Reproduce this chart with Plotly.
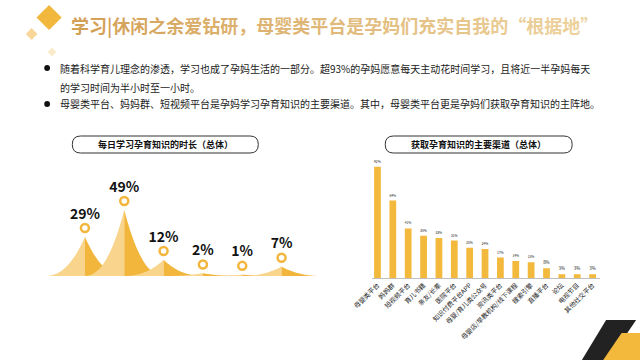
import numpy as np
import plotly.graph_objects as go

# ---------------- data ----------------
duration_cats = ["< 0.5h", "0.5h -1h", "1h -3h", "3h -5h", "> 5h", "不主动学习"]
duration_vals = [29, 49, 12, 2, 1, 7]

channel_cats = ["母婴类平台", "妈妈群", "短视频平台", "育儿书籍", "亲友/长辈", "医院平台",
                "知识付费平台APP", "母婴/育儿类公众号", "资讯类平台", "母婴店/早教机构/线下课程",
                "搜索引擎", "直播平台", "论坛", "电视节目", "其他社交平台"]
channel_vals = [92, 64, 41, 35, 33, 31, 25, 24, 17, 14, 13, 8, 3, 3, 3]

title_text = "学习|休闲之余爱钻研，母婴类平台是孕妈们充实自我的“根据地”"
bullet_lines = [
    "随着科学育儿理念的渗透，学习也成了孕妈生活的一部分。超93%的孕妈愿意每天主动花时间学习，且将近一半孕妈每天",
    "的学习时间为半小时至一小时。",
    "母婴类平台、妈妈群、短视频平台是孕妈学习孕育知识的主要渠道。其中，母婴类平台更是孕妈们获取孕育知识的主阵地。",
]
left_title = "每日学习孕育知识的时长（总体）"
right_title = "获取孕育知识的主要渠道（总体）"

# ---------------- styling ----------------
W, H = 640, 360
FONT = "Noto Sans CJK SC"
LIGHT = "#F8D48C"
DARK = "#F2B63C"
BAR = "#F3B93D"


def px(x):
    return x / W


def py(y):
    return 1 - y / H


fig = go.Figure()

# ---- left chart: mountain peaks ----
w = 1.05
p = 2.4
t = np.linspace(0, 1, 40)
for i, v in enumerate(duration_vals):
    xl = i - w + t * w
    yl = v * t ** p
    fig.add_trace(go.Scatter(x=list(xl) + [i], y=list(yl) + [0], fill="toself", mode="none",
                             fillcolor=LIGHT, hoverinfo="skip", showlegend=False,
                             xaxis="x", yaxis="y"))
    xr = i + t * w
    yr = v * (1 - t) ** p
    fig.add_trace(go.Scatter(x=list(xr) + [i], y=list(yr) + [0], fill="toself", mode="none",
                             fillcolor=DARK, hoverinfo="skip", showlegend=False,
                             xaxis="x", yaxis="y"))

idx = list(range(len(duration_vals)))
# circles with labels
fig.add_trace(go.Scatter(
    x=idx, y=[v + 6.5 for v in duration_vals], mode="markers+text",
    marker=dict(size=8, color="white", line=dict(color=DARK, width=2.5)),
    text=[f"{v}%" for v in duration_vals], textposition="top center",
    textfont=dict(family=FONT, size=14, color="#111"),
    texttemplate="<b>%{text}</b>",
    cliponaxis=False, showlegend=False, xaxis="x", yaxis="y"))
# baseline dots
fig.add_trace(go.Scatter(
    x=idx, y=[-4.4] * len(idx), mode="markers",
    marker=dict(size=4.5, color=DARK), cliponaxis=False, showlegend=False,
    xaxis="x", yaxis="y"))
# category labels
fig.add_trace(go.Scatter(
    x=idx, y=[-12.6] * len(idx), mode="text", text=duration_cats,
    textfont=dict(family=FONT, size=8, color="#333"), textposition="middle center",
    cliponaxis=False, showlegend=False, xaxis="x", yaxis="y"))

# ---- right chart: bars ----
fig.add_trace(go.Bar(
    x=channel_cats, y=channel_vals, width=0.44, marker=dict(color=BAR, line=dict(width=0)),
    text=[f"{v}%" for v in channel_vals], textposition="outside",
    textfont=dict(family=FONT, size=7, color="#111"), cliponaxis=False,
    showlegend=False, xaxis="x2", yaxis="y2"))

fig.update_layout(
    width=W, height=H, margin=dict(l=0, r=0, t=0, b=0),
    paper_bgcolor="white", plot_bgcolor="rgba(0,0,0,0)",
    font=dict(family=FONT),
    xaxis=dict(domain=[px(20), px(310)], range=[-1.158, 5.985], visible=False, fixedrange=True),
    yaxis=dict(domain=[py(276), py(160)], range=[0, 85.9], visible=False, fixedrange=True),
    xaxis2=dict(domain=[px(363), px(599)], range=[-0.378, 14.5], anchor="y2",
                showline=True, linecolor="#BFBFBF", linewidth=1, ticks="",
                tickangle=-45, tickfont=dict(family=FONT, size=6.5, color="#222"),
                showgrid=False, zeroline=False),
    yaxis2=dict(domain=[py(278), py(150)], range=[0, 105.8], anchor="x2", visible=False),
    bargap=0.5,
)

shapes = []


def rounded_box(x0, y0, x1, y1):
    r = (y1 - y0) / 2
    path = (f"M {px(x0 + r)},{py(y0)} L {px(x1 - r)},{py(y0)} "
            f"Q {px(x1)},{py(y0)} {px(x1)},{py(y0 + r)} "
            f"Q {px(x1)},{py(y1)} {px(x1 - r)},{py(y1)} "
            f"L {px(x0 + r)},{py(y1)} "
            f"Q {px(x0)},{py(y1)} {px(x0)},{py(y0 + r)} "
            f"Q {px(x0)},{py(y0)} {px(x0 + r)},{py(y0)} Z")
    return dict(type="path", xref="paper", yref="paper", path=path,
                line=dict(color="#333", width=1), fillcolor="white", layer="below")


def poly(points, color):
    path = "M " + " L ".join(f"{px(a)},{py(b)}" for a, b in points) + " Z"
    return dict(type="path", xref="paper", yref="paper", path=path,
                line=dict(width=0), fillcolor=color, layer="above")


def diamond(cx, cy, hw, hh, color):
    return poly([(cx, cy - hh), (cx + hw, cy), (cx, cy + hh), (cx - hw, cy)], color)


def dot(cx, cy, r):
    return dict(type="circle", xref="paper", yref="paper",
                x0=px(cx - r), x1=px(cx + r), y0=py(cy + r), y1=py(cy - r),
                fillcolor="#111", line=dict(width=0))


shapes.append(rounded_box(54, 136, 246, 153))
shapes.append(rounded_box(377, 136, 570, 153))
shapes.append(diamond(30, 17.5, 13, 12.5, "#F2B83E"))
shapes.append(diamond(12, 34, 6, 6, "#F8D699"))
shapes.append(diamond(33, 52, 4.5, 4.5, "#FBEBCB"))
# bottom-right decoration
shapes.append(poly([(605, 320), (636, 320), (608, 360), (580, 360)], "#222222"))
shapes.append(poly([(621, 333), (640, 333), (640, 360), (602, 360)], "#F3B93D"))
shapes.append(dot(28, 68, 3))
shapes.append(dot(28, 104, 3))
fig.update_layout(shapes=shapes)

# title with gradient-like colouring
c0 = np.array([0xD4, 0xA0, 0x56])
c1 = np.array([0xEE, 0xD3, 0x9E])
chars = list(title_text)
spans = []
for k, ch in enumerate(chars):
    c = (c0 + (c1 - c0) * k / (len(chars) - 1)).astype(int)
    spans.append(f"<span style='color:#{c[0]:02X}{c[1]:02X}{c[2]:02X}'>{ch}</span>")
annotations = [
    dict(x=px(51), y=py(25), xref="paper", yref="paper", xanchor="left", yanchor="middle",
         text="<b>" + "".join(spans) + "</b>", showarrow=False,
         font=dict(family=FONT, size=18)),
]
for txt, yy in zip(bullet_lines, (68, 87, 104)):
    annotations.append(dict(x=px(39), y=py(yy), xref="paper", yref="paper",
                            xanchor="left", yanchor="middle", text=txt, showarrow=False,
                            font=dict(family=FONT, size=10, color="#1A1A1A")))
annotations.append(dict(x=px(150), y=py(144.5), xref="paper", yref="paper",
                        xanchor="center", yanchor="middle",
                        text="<b>" + left_title + "</b>", showarrow=False,
                        font=dict(family=FONT, size=9, color="#111")))
annotations.append(dict(x=px(473.5), y=py(144.5), xref="paper", yref="paper",
                        xanchor="center", yanchor="middle",
                        text="<b>" + right_title + "</b>", showarrow=False,
                        font=dict(family=FONT, size=9, color="#111")))
fig.update_layout(annotations=annotations)

fig.write_html("out.html", config={"displayModeBar": False},
               post_script="document.body.style.margin='0';document.body.style.overflow='hidden';")
